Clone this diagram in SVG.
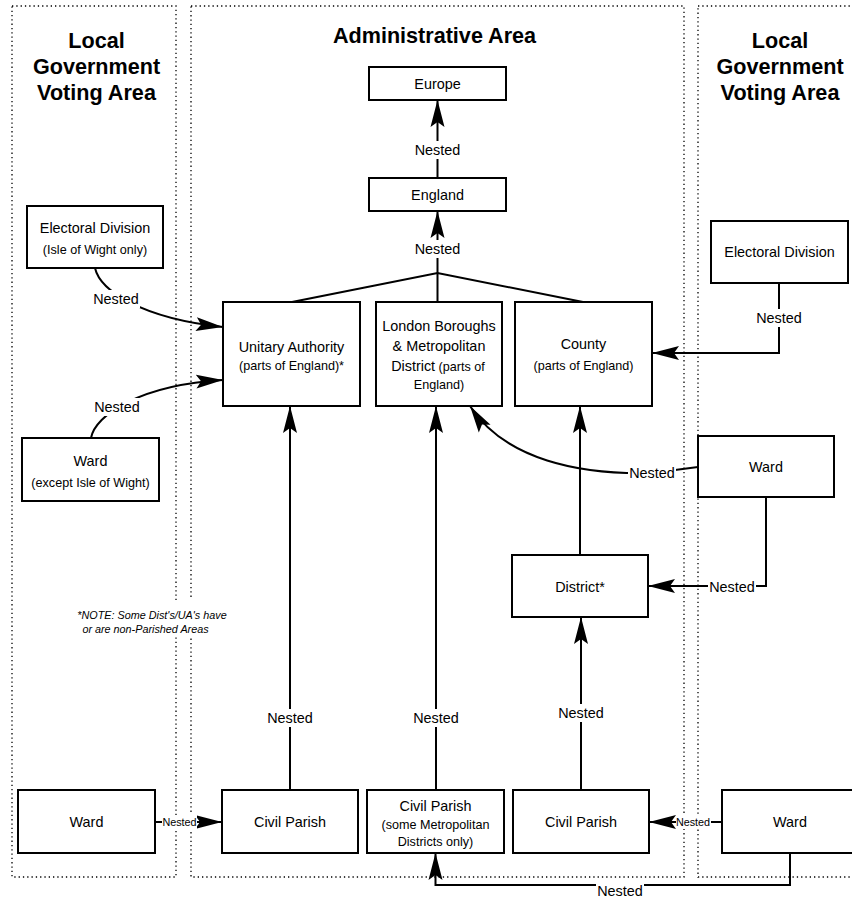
<svg xmlns="http://www.w3.org/2000/svg" width="852" height="900" viewBox="0 0 852 900">
<defs>
<style>
.zone{fill:none;stroke:#000;stroke-width:1.3;stroke-dasharray:1.3 3}
.box{fill:#fff;stroke:#000;stroke-width:2}
.edge{fill:none;stroke:#000;stroke-width:2}
.t{font-family:"Liberation Sans",Arial,Helvetica,sans-serif;font-size:14.4px;text-anchor:middle;fill:#000}
.s{font-size:12.6px}
.xs{font-size:10.8px}
.h{font-size:21.6px;font-weight:bold}
.note{font-size:10.8px;font-style:italic}
.bg{fill:#fff}
</style>
<marker id="ah" viewBox="0 0 28 16" refX="27" refY="8" markerWidth="28" markerHeight="16" orient="auto" markerUnits="userSpaceOnUse">
<path d="M27,8 L0,1 L5,8 L0,15 Z" fill="#000"/>
</marker>
</defs>
<rect width="852" height="900" fill="#fff"/>

<g id="zones">
<rect class="zone" x="12" y="6" width="164" height="871"/>
<rect class="zone" x="191" y="6" width="493" height="871"/>
<rect class="zone" x="698" y="6" width="180" height="871"/>
<text class="t h" x="96.5" y="48">Local</text>
<text class="t h" x="96.5" y="74">Government</text>
<text class="t h" x="96.5" y="100">Voting Area</text>
<text class="t h" x="434.5" y="43">Administrative Area</text>
<text class="t h" x="780" y="48">Local</text>
<text class="t h" x="780" y="74">Government</text>
<text class="t h" x="780" y="100">Voting Area</text>
</g>

<g id="connectors">
<path class="edge" d="M437.5,178 L437.5,100" marker-end="url(#ah)"/>
<path class="edge" d="M292,302 L437.5,273 L583,302 M437.5,302 L437.5,273"/>
<path class="edge" d="M437.5,273 L437.5,211" marker-end="url(#ah)"/>
<path class="edge" d="M779,283 L779,353 L652,353" marker-end="url(#ah)"/>
<path class="edge" d="M698,467 L652,473 C580,475 505,460 470,406" marker-end="url(#ah)"/>
<path class="edge" d="M766,497 L766,586 L648,586" marker-end="url(#ah)"/>
<path class="edge" d="M290,790 L290,406" marker-end="url(#ah)"/>
<path class="edge" d="M436,790 L436,406" marker-end="url(#ah)"/>
<path class="edge" d="M580,555 L580,406" marker-end="url(#ah)"/>
<path class="edge" d="M581,790 L581,617" marker-end="url(#ah)"/>
<path class="edge" d="M155,822 L222,822" marker-end="url(#ah)"/>
<path class="edge" d="M722,822 L649,822" marker-end="url(#ah)"/>
<path class="edge" d="M790,853 L790,885 L435.5,885 L435.5,853" marker-end="url(#ah)"/>
<path class="edge" d="M95,268 C100,290 140,318 223,327" marker-end="url(#ah)"/>
<path class="edge" d="M91,438 C95,415 140,385 223,380" marker-end="url(#ah)"/>

<g id="edge-labels">
<rect class="bg" x="413" y="141" width="49" height="18"/>
<text class="t" x="437.5" y="155">Nested</text>
<rect class="bg" x="413" y="240" width="49" height="18"/>
<text class="t" x="437.5" y="254">Nested</text>
<rect class="bg" x="755" y="309" width="49" height="18"/>
<text class="t" x="779" y="323">Nested</text>
<rect class="bg" x="628" y="464" width="48" height="18"/>
<text class="t" x="652" y="478">Nested</text>
<rect class="bg" x="708" y="578" width="48" height="18"/>
<text class="t" x="732" y="592">Nested</text>
<rect class="bg" x="266" y="709" width="48" height="18"/>
<text class="t" x="290" y="723">Nested</text>
<rect class="bg" x="412" y="709" width="48" height="18"/>
<text class="t" x="436" y="723">Nested</text>
<rect class="bg" x="557" y="704" width="48" height="18"/>
<text class="t" x="581" y="718">Nested</text>
<rect class="bg" x="162" y="815" width="35" height="14"/>
<text class="t xs" x="179.5" y="826">Nested</text>
<rect class="bg" x="676" y="815" width="35" height="14"/>
<text class="t xs" x="693" y="826">Nested</text>
<rect class="bg" x="596" y="881" width="48" height="18"/>
<text class="t" x="620" y="896">Nested</text>
<rect class="bg" x="92" y="290" width="48" height="18"/>
<text class="t" x="116" y="304">Nested</text>
<rect class="bg" x="93" y="398" width="48" height="18"/>
<text class="t" x="117" y="412">Nested</text>
</g>
</g>

<g id="note">
<rect class="bg" x="72" y="600" width="160" height="36"/>
<text class="t note" x="152" y="619">*NOTE: Some Dist's/UA's have</text>
<text class="t note" x="145.5" y="633">or are non-Parished Areas</text>
</g>

<g id="europe"><rect class="box" x="369" y="67" width="137" height="33"/><text class="t" x="437.5" y="89">Europe</text></g>
<g id="england"><rect class="box" x="369" y="178" width="137" height="33"/><text class="t" x="437.5" y="200">England</text></g>
<g id="unitary"><rect class="box" x="223" y="302" width="137" height="104"/><text class="t" x="291.5" y="352">Unitary Authority</text><text class="t s" x="291.5" y="369.5">(parts of England)*</text></g>
<g id="london"><rect class="box" x="376" y="302" width="126" height="104"/><text class="t" x="439" y="331">London Boroughs</text><text class="t" x="439" y="351">&amp; Metropolitan</text><text class="t" x="438" y="371">District<tspan class="s"> (parts of</tspan></text><text class="t s" x="439" y="388.5">England)</text></g>
<g id="county"><rect class="box" x="515" y="302" width="137" height="104"/><text class="t" x="583.5" y="349">County</text><text class="t s" x="583.5" y="369.5">(parts of England)</text></g>
<g id="ed-left"><rect class="box" x="27" y="206" width="136" height="62"/><text class="t" x="95" y="233">Electoral Division</text><text class="t s" x="95" y="253.5">(Isle of Wight only)</text></g>
<g id="ward-left"><rect class="box" x="22" y="438" width="137" height="63"/><text class="t" x="90.5" y="466">Ward</text><text class="t s" x="90.5" y="486.5">(except Isle of Wight)</text></g>
<g id="ed-right"><rect class="box" x="711" y="221" width="137" height="62"/><text class="t" x="779.5" y="257">Electoral Division</text></g>
<g id="ward-right"><rect class="box" x="698" y="436" width="136" height="61"/><text class="t" x="766" y="472">Ward</text></g>
<g id="district"><rect class="box" x="512" y="555" width="136" height="62"/><text class="t" x="580" y="592">District*</text></g>
<g id="parish-1"><rect class="box" x="222" y="790" width="136" height="63"/><text class="t" x="290" y="827">Civil Parish</text></g>
<g id="parish-2"><rect class="box" x="367" y="790" width="137" height="63"/><text class="t" x="435.5" y="811">Civil Parish</text><text class="t s" x="435.5" y="828.5">(some Metropolitan</text><text class="t s" x="435.5" y="845.5">Districts only)</text></g>
<g id="parish-3"><rect class="box" x="513" y="790" width="136" height="63"/><text class="t" x="581" y="827">Civil Parish</text></g>
<g id="ward-bottom-left"><rect class="box" x="18" y="790" width="137" height="63"/><text class="t" x="86.5" y="827">Ward</text></g>
<g id="ward-bottom-right"><rect class="box" x="722" y="790" width="137" height="63"/><text class="t" x="790" y="827">Ward</text></g>
</svg>
